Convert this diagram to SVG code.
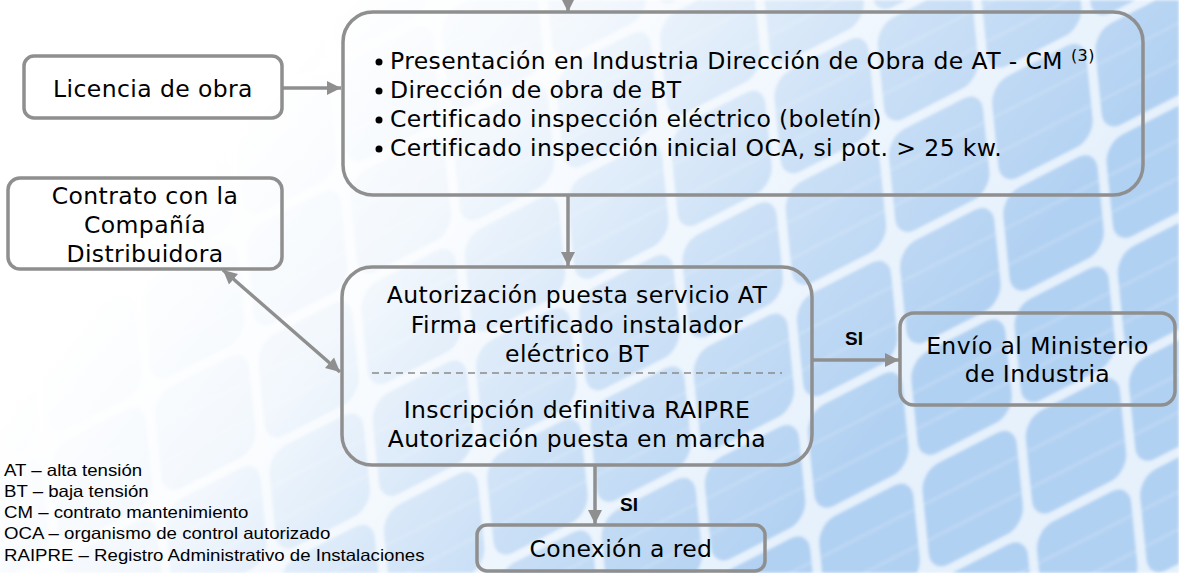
<svg xmlns="http://www.w3.org/2000/svg" width="1179" height="573" viewBox="0 0 1179 573">
  <defs>
    <filter id="soft" x="0" y="0" width="1" height="1">
      <feGaussianBlur stdDeviation="1.8"/>
    </filter>
    <pattern id="cells" patternUnits="userSpaceOnUse" width="116" height="112" patternTransform="matrix(0.89 -0.455 0.1 0.995 0 0)">
      <rect x="0" y="0" width="116" height="112" fill="#e4f0fc"/>
      <rect x="5" y="5" width="106" height="102" rx="20" fill="#abcdf1"/>
      <line x1="5" y1="38" x2="111" y2="38" stroke="#bad6f4" stroke-width="2.5"/>
      <line x1="5" y1="74" x2="111" y2="74" stroke="#bad6f4" stroke-width="2.5"/>
    </pattern>
    <linearGradient id="fade" gradientUnits="userSpaceOnUse" x1="250" y1="110" x2="780" y2="550">
      <stop offset="0" stop-color="#ffffff" stop-opacity="1"/>
      <stop offset="0.3" stop-color="#ffffff" stop-opacity="0.85"/>
      <stop offset="0.65" stop-color="#ffffff" stop-opacity="0.4"/>
      <stop offset="1" stop-color="#ffffff" stop-opacity="0.08"/>
    </linearGradient>
    <marker id="arr" markerUnits="userSpaceOnUse" markerWidth="15" markerHeight="15" refX="14" refY="7" orient="auto-start-reverse" viewBox="0 0 15 14">
      <path d="M0,0 L14,7 L0,14 z" fill="#8f8f8f"/>
    </marker>
    <style>
      .box { fill: none; stroke: #8f8f8f; stroke-width: 3.5; }
      .t { font-family: "DejaVu Sans", Verdana, sans-serif; font-size: 23.5px; letter-spacing: 0.4px; fill: #000; }
      .c { text-anchor: middle; }
      .si { font-family: "Liberation Sans", Arial, sans-serif; font-weight: bold; font-size: 19px; fill: #000; }
      .leg { font-family: "Liberation Sans", Arial, sans-serif; font-size: 16.5px; fill: #000; }
      .con { fill: none; stroke: #8f8f8f; stroke-width: 3.5; }
    </style>
  </defs>

  <g id="background">
    <rect x="0" y="0" width="1179" height="573" fill="url(#cells)" filter="url(#soft)"/>
    <rect x="0" y="0" width="1179" height="573" fill="url(#fade)"/>
  </g>

  <g id="connectors">
    <path class="con" d="M568,-10 L568,12" marker-end="url(#arr)"/>
    <path class="con" d="M282,88 L341,88" marker-end="url(#arr)"/>
    <path class="con" d="M568,195 L568,266" marker-end="url(#arr)"/>
    <path class="con" d="M223,270 L340,372" marker-start="url(#arr)" marker-end="url(#arr)"/>
    <path class="con" d="M812,360 L899,360" marker-end="url(#arr)"/>
    <path class="con" d="M595,465 L595,524" marker-end="url(#arr)"/>
    <text class="si" x="845" y="345">SI</text>
    <text class="si" x="620" y="511">SI</text>
  </g>

  <g id="licencia">
    <rect class="box" x="24" y="56" width="258" height="62" rx="10"/>
    <text class="t c" x="153" y="97">Licencia de obra</text>
  </g>

  <g id="contrato">
    <rect class="box" x="8" y="178" width="274" height="91" rx="12"/>
    <text class="t c" x="145" y="204">Contrato con la</text>
    <text class="t c" x="145" y="233">Compañía</text>
    <text class="t c" x="145" y="262">Distribuidora</text>
  </g>

  <g id="presentacion">
    <rect class="box" x="343" y="12" width="800" height="183" rx="30"/>
    <circle cx="379" cy="62" r="3.5" fill="#000"/>
    <circle cx="379" cy="91" r="3.5" fill="#000"/>
    <circle cx="379" cy="120" r="3.5" fill="#000"/>
    <circle cx="379" cy="149" r="3.5" fill="#000"/>
    <text class="t" x="390" y="69">Presentación en Industria Dirección de Obra de AT - CM <tspan font-size="16" dy="-8">(3)</tspan></text>
    <text class="t" x="390" y="98">Dirección de obra de BT</text>
    <text class="t" x="390" y="127">Certificado inspección eléctrico (boletín)</text>
    <text class="t" x="390" y="156">Certificado inspección inicial OCA, si pot. &gt; 25 kw.</text>
  </g>

  <g id="autorizacion">
    <rect class="box" x="342" y="267" width="470" height="198" rx="30"/>
    <text class="t c" x="577" y="303">Autorización puesta servicio AT</text>
    <text class="t c" x="577" y="333">Firma certificado instalador</text>
    <text class="t c" x="577" y="362">eléctrico BT</text>
    <line x1="372" y1="373" x2="782" y2="373" stroke="#8a8a8a" stroke-width="1.5" stroke-dasharray="7 5"/>
    <text class="t c" x="577" y="418">Inscripción definitiva RAIPRE</text>
    <text class="t c" x="577" y="447">Autorización puesta en marcha</text>
  </g>

  <g id="envio">
    <rect class="box" x="900" y="313" width="275" height="92" rx="14"/>
    <text class="t c" x="1037.5" y="354">Envío al Ministerio</text>
    <text class="t c" x="1037.5" y="382">de Industria</text>
  </g>

  <g id="conexion">
    <rect class="box" x="477" y="525" width="288" height="46" rx="10"/>
    <text class="t c" x="621" y="557">Conexión a red</text>
  </g>

  <g id="legend" transform="translate(4,0) scale(1.13,1)">
    <text class="leg" x="0" y="476">AT – alta tensión</text>
    <text class="leg" x="0" y="497">BT – baja tensión</text>
    <text class="leg" x="0" y="518">CM – contrato mantenimiento</text>
    <text class="leg" x="0" y="539">OCA – organismo de control autorizado</text>
    <text class="leg" x="0" y="561">RAIPRE – Registro Administrativo de Instalaciones</text>
  </g>
</svg>
